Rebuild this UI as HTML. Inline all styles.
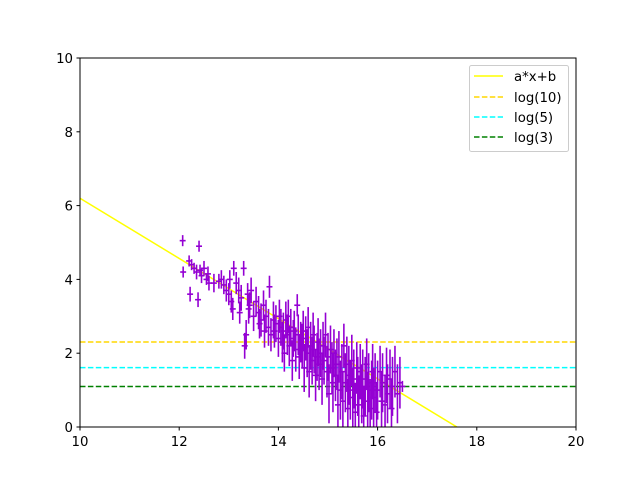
<!DOCTYPE html>
<html><head><meta charset="utf-8"><style>body{margin:0;background:#fff}svg{display:block;font-family:"DejaVu Sans","Liberation Sans",sans-serif}</style></head>
<body>
<svg id="chart" width="640" height="480">
<defs><clipPath id="clip"><rect x="80" y="58" width="496" height="369"/></clipPath></defs>
<rect x="0" y="0" width="640" height="480" fill="#fff"/>
<g id="marks" clip-path="url(#clip)"></g>
<g id="axes"></g>
<g id="legend">
<rect x="469.5" y="65.5" width="99" height="86" rx="2" fill="#fff" fill-opacity="0.8" stroke="#ccc"/>
<line x1="474" y1="76" x2="503" y2="76" stroke="#ffff00" stroke-width="1.5"/>
<text x="514" y="81" font-size="13.3">a*x+b</text>
<line x1="474" y1="97" x2="503" y2="97" stroke="#ffd700" stroke-width="1.5" stroke-dasharray="5.5,2.4"/>
<text x="514" y="102" font-size="13.3">log(10)</text>
<line x1="474" y1="117" x2="503" y2="117" stroke="#00ffff" stroke-width="1.5" stroke-dasharray="5.5,2.4"/>
<text x="514" y="122" font-size="13.3">log(5)</text>
<line x1="474" y1="137" x2="503" y2="137" stroke="#008000" stroke-width="1.5" stroke-dasharray="5.5,2.4"/>
<text x="514" y="142" font-size="13.3">log(3)</text>
</g>
</svg>
<script>
const xs = [12.07,12.08,12.2,12.22,12.25,12.3,12.35,12.38,12.4,12.42,12.45,12.5,12.55,12.58,12.6,
12.7,12.8,12.85,12.9,12.95,13.0,13.02,13.05,13.08,13.1,13.15,13.2,13.22,13.25,13.3,13.32,13.35,13.38,13.4,13.42,13.45,13.5,
13.55,13.6,13.62,13.65,13.7,13.72,13.75,13.8,13.82,13.85,13.9,13.92,13.95,14.0,14.02,14.05,14.08,14.1,14.12,14.15,14.18,14.2,14.22,14.25,14.28,14.3,14.32,14.35,14.38,14.4,14.42,14.45,14.48,14.5,
14.52,14.55,14.58,14.6,14.62,14.65,14.68,14.7,14.72,14.75,14.78,14.8,14.82,14.85,14.88,14.9,14.92,14.95,14.98,15.0,15.02,15.05,15.08,15.1,15.12,15.15,15.18,15.2,
15.22,15.25,15.28,15.3,15.32,15.35,15.38,15.4,15.42,15.45,15.48,15.5,15.52,15.55,15.58,15.6,15.62,15.65,15.68,15.7,15.72,15.75,15.78,15.8,15.82,15.85,15.88,15.9,15.92,15.95,15.98,
16.0,16.05,16.08,16.1,16.15,16.18,16.2,16.25,16.28,16.3,16.35,16.4,16.45,16.5];
const ys = [5.05,4.2,4.5,3.6,4.4,4.3,4.2,3.45,4.9,4.25,4.1,4.3,4.0,4.15,3.9,
3.9,3.95,4.0,3.85,3.7,3.6,4.0,3.4,3.2,4.3,3.9,3.7,3.1,3.5,4.3,2.2,2.5,3.6,3.2,3.3,3.7,3.0,
3.4,3.1,2.8,2.9,3.3,2.6,3.0,2.7,3.8,2.5,2.9,2.6,2.8,2.4,3.0,2.7,2.3,2.6,2.0,2.9,2.5,3.0,2.2,2.7,1.8,2.4,2.6,2.1,3.3,2.5,1.9,2.3,2.2,2.6,
1.6,2.4,2.0,2.7,1.5,2.2,1.8,2.5,2.1,1.4,1.9,2.3,1.7,2.0,1.3,2.2,1.8,2.5,1.5,1.9,0.9,2.1,1.6,1.2,2.0,1.4,1.7,0.6,
1.9,1.0,1.5,0.7,2.2,1.2,1.7,0.5,1.4,1.0,1.8,0.8,1.3,0.4,1.6,1.1,0.6,1.5,0.9,1.3,0.3,1.1,1.7,0.7,1.2,0.5,1.0,1.5,0.8,1.2,0.4,
1.0,1.5,0.7,1.2,0.6,1.4,0.9,1.3,0.5,1.1,1.5,0.9,1.2,1.1];
const yerrs = [0.15,0.15,0.15,0.2,0.15,0.15,0.2,0.2,0.15,0.15,0.2,0.2,0.15,0.2,0.2,
0.25,0.2,0.25,0.25,0.3,0.3,0.25,0.3,0.3,0.2,0.3,0.35,0.3,0.35,0.2,0.35,0.4,0.3,0.4,0.35,0.35,0.4,
0.4,0.45,0.4,0.45,0.4,0.45,0.45,0.5,0.3,0.45,0.5,0.45,0.5,0.5,0.45,0.5,0.55,0.5,0.5,0.5,0.55,0.45,0.55,0.5,0.55,0.5,0.55,0.6,0.3,0.55,0.6,0.55,0.6,0.55,
0.65,0.6,0.65,0.55,0.7,0.65,0.65,0.6,0.65,0.7,0.65,0.65,0.7,0.65,0.7,0.65,0.65,0.6,0.7,0.65,0.8,0.65,0.7,0.8,0.65,0.7,0.7,0.8,
0.7,0.8,0.75,0.8,0.6,0.8,0.75,0.8,0.8,0.8,0.7,0.8,0.8,0.8,0.7,0.8,0.8,0.75,0.8,0.8,0.8,0.8,0.7,0.8,0.8,0.8,0.8,0.75,0.8,0.8,0.8,
0.8,0.7,0.8,0.8,0.8,0.75,0.8,0.8,0.8,0.8,0.7,0.8,0.7,0.15];
const xerrs = [0.06];
const fitSlope = -0.816;
const fitIntercept = 14.36;
const hLines = [Math.log(10), Math.log(5), Math.log(3)];
const hColors = ["#ffd700","#00ffff","#008000"];
const hNames = ["log10-line","log5-line","log3-line"];
const xTicks = [10,12,14,16,18,20];
const yTicks = [0,2,4,6,8,10];

const X0=80,X1=576,Y0=427,Y1=58;
const sx = v => X0 + (v-10)/(20-10)*(X1-X0);
const sy = v => Y0 - (v-0)/(10-0)*(Y0-Y1);
const NS="http://www.w3.org/2000/svg";
const marks=document.getElementById('marks'), axes=document.getElementById('axes');
function mk(tag, attrs, parent){const e=document.createElementNS(NS,tag);for(const k in attrs)e.setAttribute(k,attrs[k]);parent.appendChild(e);return e;}

let fl = mk('line',{x1:sx(10),y1:sy(fitSlope*10+fitIntercept),x2:sx(20),y2:sy(fitSlope*20+fitIntercept),stroke:'#ffff00','stroke-width':1.5},marks);


hLines.forEach((v,i)=>{
  const l=mk('line',{x1:X0,y1:sy(v),x2:X1,y2:sy(v),stroke:hColors[i],'stroke-width':1.5,'stroke-dasharray':'5.5,2.4'},marks);
  
  
});
xs.forEach((x,i)=>{
  const y=ys[i], e=yerrs[i], xe=xerrs[0];
  const g=mk('g',{stroke:'#9400d3','stroke-width':1.6},marks);
  
  
  mk('line',{x1:sx(x),y1:sy(y-e),x2:sx(x),y2:sy(y+e)},g);
  mk('line',{x1:sx(x-xe),y1:sy(y),x2:sx(x+xe),y2:sy(y)},g);
});
const fr=mk('rect',{x:X0,y:Y1,width:X1-X0,height:Y0-Y1,fill:'none',stroke:'#000','stroke-width':1},axes);


xTicks.forEach(t=>{
  const x=sx(t);
  mk('line',{x1:x,y1:Y0,x2:x,y2:Y0+3.5,stroke:'#000'},axes);
  const tx=mk('text',{x:x,y:Y0+19,'font-size':13.3,'text-anchor':'middle'},axes);
  tx.textContent=t;
  
  
});
yTicks.forEach(t=>{
  const y=sy(t);
  mk('line',{x1:X0-3.5,y1:y,x2:X0,y2:y,stroke:'#000'},axes);
  const tx=mk('text',{x:X0-7,y:y+5,'font-size':13.3,'text-anchor':'end'},axes);
  tx.textContent=t;
  
  
});
</script>
</body></html>
